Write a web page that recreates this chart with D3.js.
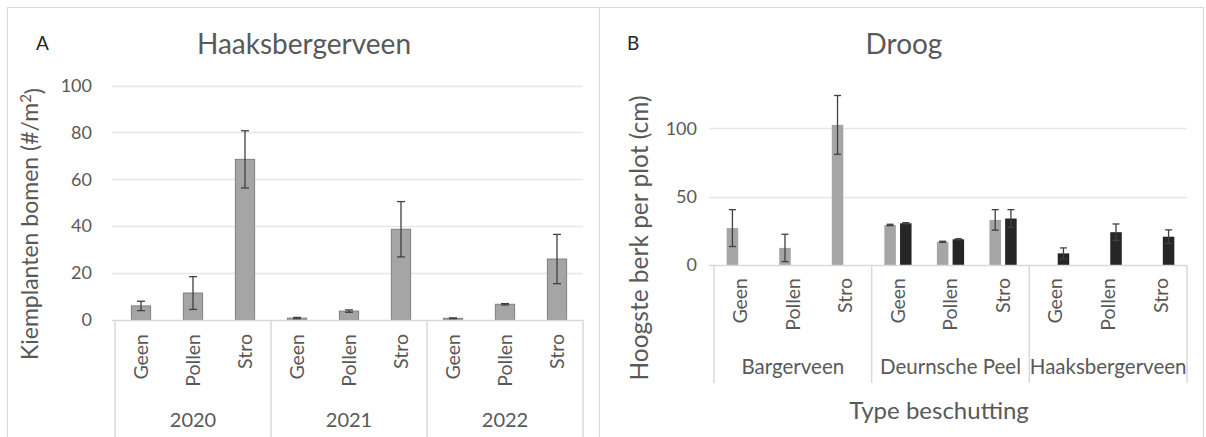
<!DOCTYPE html>
<html>
<head>
<meta charset="utf-8">
<script src="https://cdn.jsdelivr.net/npm/d3@7"></script>
<style>
  html, body { margin: 0; padding: 0; background: #fff; }
  svg { display: block; }
  text { font-family: Lato, "Open Sans", sans-serif; fill: #595959; }
</style>
</head>
<body>
<svg id="chart" width="1206" height="437"></svg>
<script>
// ---- Panel A: seedlings per m2, Haaksbergerveen ----
const yearsA = ["2020", "2021", "2022"];
const shelterTypes = ["Geen", "Pollen", "Stro"];
const seedlingMean = [6, 11.5, 68.5, 0.8, 3.8, 38.7, 0.7, 6.7, 26];
const seedlingErr = [2, 7, 12.2, 0.3, 0.5, 11.8, 0.2, 0.3, 10.5];
const ticksA = [0, 20, 40, 60, 80, 100];

// ---- Panel B: tallest birch per plot, dry conditions ----
const sitesB = ["Bargerveen", "Deurnsche Peel", "Haaksbergerveen"];
const heightSeries = ["s1", "s2"];
const heightS1 = [27, 12.5, 102.5, 29.3, 17, 33, 0, 0, 0];
const heightS1Err = [13.5, 10, 21.5, 0.5, 0.4, 7.5, 0, 0, 0];
const heightS2 = [0, 0, 0, 30.5, 18.8, 34, 8.5, 24, 20.7];
const heightS2Err = [0, 0, 0, 0.5, 0.4, 6.5, 4, 6, 5];
const ticksB = [0, 50, 100];

const GRID = "#d9d9d9";
const LIGHT = "#a5a5a5";
const DARK = "#262626";
const ERR = "#404040";

const svg = d3.select("#chart");

// Outer frame and divider between panels
svg.append("line").attr("x1", 7).attr("x2", 1204).attr("y1", 7.5).attr("y2", 7.5).attr("stroke", GRID);
svg.append("line").attr("x1", 7.5).attr("x2", 7.5).attr("y1", 7).attr("y2", 437).attr("stroke", GRID);
svg.append("line").attr("x1", 599.5).attr("x2", 599.5).attr("y1", 7).attr("y2", 437).attr("stroke", GRID);
svg.append("line").attr("x1", 1203.5).attr("x2", 1203.5).attr("y1", 7).attr("y2", 437).attr("stroke", GRID);

function errorBar(g, cx, yScale, mean, err, cap) {
  if (err <= 0 && mean <= 0) return;
  const y1 = yScale(mean + err), y2 = yScale(Math.max(0, mean - err));
  g.append("line").attr("x1", cx).attr("x2", cx).attr("y1", y1).attr("y2", y2)
    .attr("stroke", ERR).attr("stroke-width", 1.3);
  [y1, y2].forEach(y => g.append("line").attr("x1", cx - cap / 2).attr("x2", cx + cap / 2)
    .attr("y1", y).attr("y2", y).attr("stroke", ERR).attr("stroke-width", 1.3));
}

// ================= Panel A =================
(function () {
  const g = svg.append("g");
  const cats = d3.range(yearsA.length * shelterTypes.length);
  const x = d3.scaleBand().domain(cats).range([115, 583]).padding(0);
  const y = d3.scaleLinear().domain([0, 100]).range([320, 85.5]);
  const bw = x.bandwidth() * 0.37;

  // gridlines
  g.selectAll("line.grid").data(ticksA.filter(t => t > 0)).join("line")
    .attr("x1", 112).attr("x2", 583)
    .attr("y1", d => Math.round(y(d)) + 0.5).attr("y2", d => Math.round(y(d)) + 0.5)
    .attr("stroke", "#e6e6e6").attr("stroke-width", 1.5);

  // y tick labels
  const ax = g.append("g").attr("transform", "translate(92,0)")
    .call(d3.axisLeft(y).tickValues(ticksA).tickSize(0).tickPadding(0));
  ax.select(".domain").remove();
  ax.selectAll("text").style("font-size", "18px").style("fill", "#595959")
    .style("font-family", "Lato, sans-serif");

  // bars
  g.selectAll("rect.bar").data(cats).join("rect")
    .attr("x", i => x(i) + (x.bandwidth() - bw) / 2)
    .attr("width", bw)
    .attr("y", i => y(seedlingMean[i]))
    .attr("height", i => y(0) - y(seedlingMean[i]))
    .attr("fill", LIGHT).attr("stroke", "#7f7f7f").attr("stroke-width", 1);

  cats.forEach(i => errorBar(g, x(i) + x.bandwidth() / 2, y, seedlingMean[i], seedlingErr[i], 8));

  // axis line + group separators
  g.append("line").attr("x1", 112).attr("x2", 583).attr("y1", 320.5).attr("y2", 320.5).attr("stroke", GRID).attr("stroke-width", 1.5);
  d3.range(yearsA.length + 1).forEach(k => {
    const xx = 115 + k * 3 * x.step();
    g.append("line").attr("x1", xx).attr("x2", xx).attr("y1", 320).attr("y2", 437).attr("stroke", GRID).attr("stroke-width", 1.5);
  });

  // category labels
  g.selectAll("text.cat").data(cats).join("text")
    .attr("transform", i => `translate(${x(i) + x.bandwidth() / 2},334) rotate(-90)`)
    .attr("text-anchor", "end").attr("dy", "0.35em")
    .style("font-size", "19.5px")
    .text(i => shelterTypes[i % 3]);

  // year labels
  yearsA.forEach((yr, k) => {
    g.append("text").attr("x", 115 + (k + 0.5) * 3 * x.step()).attr("y", 427)
      .attr("text-anchor", "middle").style("font-size", "20px").text(yr);
  });

  // titles
  g.append("text").attr("x", 304).attr("y", 54).attr("text-anchor", "middle")
    .style("font-size", "28px").text("Haaksbergerveen");
  g.append("text").attr("x", 36).attr("y", 50).style("font-size", "19px").style("fill", "#262626").text("A");

  const yt = g.append("text").attr("transform", "translate(38,224) rotate(-90)")
    .attr("text-anchor", "middle").style("font-size", "23px");
  yt.append("tspan").text("Kiemplanten bomen  (#/m");
  yt.append("tspan").attr("dy", "-0.45em").style("font-size", "15px").text("2");
  yt.append("tspan").attr("dy", "0.45em").text(")");
})();

// ================= Panel B =================
(function () {
  const g = svg.append("g");
  const cats = d3.range(sitesB.length * shelterTypes.length);
  const x = d3.scaleBand().domain(cats).range([714, 1187]).padding(0);
  const y = d3.scaleLinear().domain([0, 100]).range([265, 128.3]);
  const half = 15.7;
  const xs = d3.scaleBand().domain(heightSeries).range([0, 2 * half]).paddingInner(0.267).paddingOuter(0.1335);
  const vals = { s1: heightS1, s2: heightS2 };
  const errs = { s1: heightS1Err, s2: heightS2Err };
  const fills = { s1: LIGHT, s2: DARK };

  g.selectAll("line.grid").data(ticksB.filter(t => t > 0)).join("line")
    .attr("x1", 709).attr("x2", 1187)
    .attr("y1", d => Math.round(y(d)) + 0.5).attr("y2", d => Math.round(y(d)) + 0.5)
    .attr("stroke", "#e6e6e6").attr("stroke-width", 1.5);

  const ax = g.append("g").attr("transform", "translate(697,0)")
    .call(d3.axisLeft(y).tickValues(ticksB).tickSize(0).tickPadding(0));
  ax.select(".domain").remove();
  ax.selectAll("text").style("font-size", "18px").style("fill", "#595959")
    .style("font-family", "Lato, sans-serif");

  heightSeries.forEach(s => {
    cats.forEach(i => {
      const v = vals[s][i];
      if (v <= 0) return;
      const bx = x(i) + x.bandwidth() / 2 - half + xs(s);
      g.append("rect").attr("x", bx).attr("width", xs.bandwidth())
        .attr("y", y(v)).attr("height", y(0) - y(v)).attr("fill", fills[s]);
      errorBar(g, bx + xs.bandwidth() / 2, y, v, errs[s][i], 7);
    });
  });

  g.append("line").attr("x1", 709).attr("x2", 1187).attr("y1", 265.5).attr("y2", 265.5).attr("stroke", GRID).attr("stroke-width", 1.5);
  d3.range(sitesB.length + 1).forEach(k => {
    const xx = 714 + k * 3 * x.step();
    g.append("line").attr("x1", xx).attr("x2", xx).attr("y1", 265).attr("y2", 383).attr("stroke", GRID).attr("stroke-width", 1.5);
  });

  g.selectAll("text.cat").data(cats).join("text")
    .attr("transform", i => `translate(${x(i) + x.bandwidth() / 2},278) rotate(-90)`)
    .attr("text-anchor", "end").attr("dy", "0.35em")
    .style("font-size", "19.5px")
    .text(i => shelterTypes[i % 3]);

  sitesB.forEach((site, k) => {
    g.append("text").attr("x", 714 + (k + 0.5) * 3 * x.step()).attr("y", 374)
      .attr("text-anchor", "middle").style("font-size", "20.5px").text(site);
  });

  g.append("text").attr("x", 939).attr("y", 419).attr("text-anchor", "middle")
    .style("font-size", "24px").text("Type beschutting");
  g.append("text").attr("x", 904).attr("y", 54).attr("text-anchor", "middle")
    .style("font-size", "28px").text("Droog");
  g.append("text").attr("x", 627).attr("y", 50).style("font-size", "19px").style("fill", "#262626").text("B");
  g.append("text").attr("transform", "translate(648,238) rotate(-90)")
    .attr("text-anchor", "middle").style("font-size", "24.5px").text("Hoogste berk per plot (cm)");
})();
</script>
</body>
</html>
